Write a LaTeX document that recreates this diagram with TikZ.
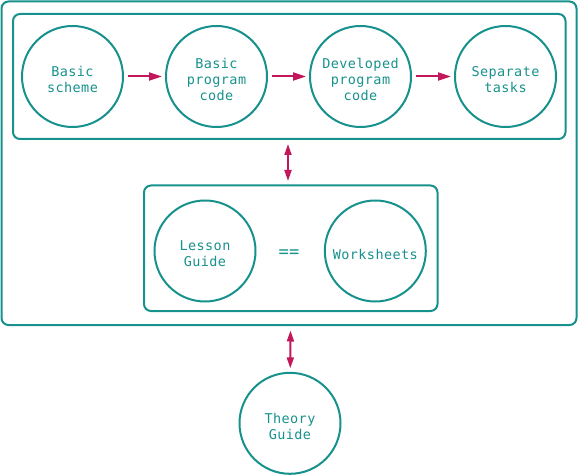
\documentclass[tikz,border=0pt]{standalone}
\usepackage{fontspec}
\setmonofont[LetterSpace=3]{DejaVu Sans Mono}
\usetikzlibrary{arrows.meta}
\definecolor{tealc}{HTML}{17918C}
\definecolor{magc}{HTML}{C2185B}
\tikzset{
  circ/.style={circle,draw=tealc,line width=2pt,minimum size=101pt,inner sep=0pt},
  lbl/.style={text=tealc,align=center,font=\ttfamily\fontsize{13.5}{16}\selectfont},
  inl/.style={lbl,yshift=-3pt},
  boxc/.style={draw=tealc,line width=2pt,rounded corners=7pt},
  arr/.style={draw=magc,line width=2pt,-{Triangle[length=13pt,width=8pt]}},
  darr/.style={draw=magc,line width=2pt,{Triangle[length=11pt,width=7pt]}-{Triangle[length=11pt,width=7pt]}}
}
\begin{document}
\begin{tikzpicture}[x=1pt,y=-1pt]
\useasboundingbox (0,0) rectangle (579,476);
\draw[boxc] (1.5,1.5) rectangle (576.5,325);
\draw[boxc] (13,14) rectangle (565.5,139);
\draw[boxc] (144,185.5) rectangle (437.5,311);
\coordinate (top) at (288,139);
\coordinate (mid) at (288,185.5);
\coordinate (outb) at (290.5,325);
\node[circ,label={[inl]center:Basic\\scheme}] (c1) at (72.5,76.5) {};
\node[circ,label={[inl]center:Basic\\program\\code}] (c2) at (216.5,76.5) {};
\node[circ,label={[inl]center:Developed\\program\\code}] (c3) at (360.5,76.5) {};
\node[circ,label={[inl]center:Separate\\tasks}] (c4) at (505.5,76.5) {};
\node[circ,label={[inl]center:Lesson\\Guide}] (lg) at (205,251) {};
\node[circ,label={[inl]center:Worksheets}] (ws) at (375.3,251) {};
\node[lbl,font=\ttfamily\fontsize{17}{18}\selectfont] (eq) at (289,254) {==};
\node[circ,label={[inl]center:Theory\\Guide}] (tg) at (290,423.3) {};
\draw[arr,shorten <=4pt,shorten >=3pt] (c1) -- (c2);
\draw[arr,shorten <=4pt,shorten >=3pt] (c2) -- (c3);
\draw[arr,shorten <=4pt,shorten >=3pt] (c3) -- (c4);
\draw[darr,shorten <=5pt,shorten >=4.5pt] (top) -- (mid);
\draw[darr,shorten <=5.5pt,shorten >=3.5pt] (outb) -- (tg);
\end{tikzpicture}
\end{document}
